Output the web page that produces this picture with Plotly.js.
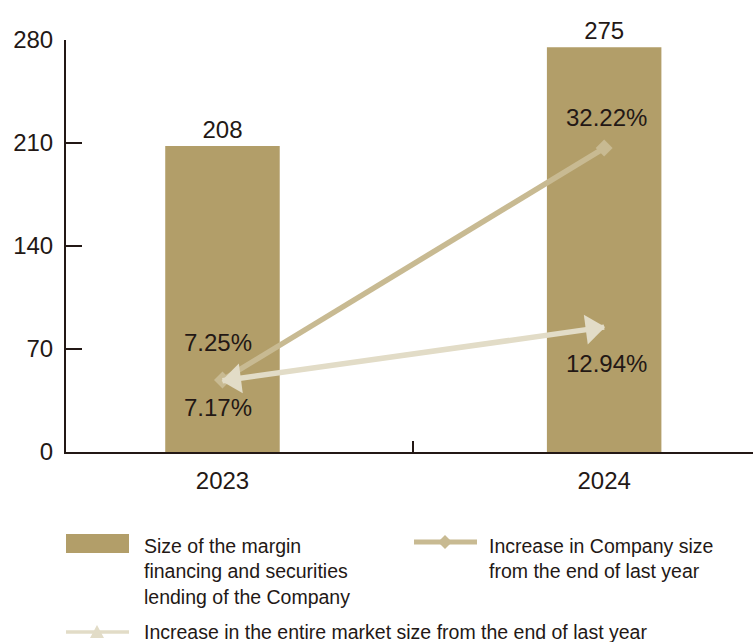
<!DOCTYPE html>
<html>
<head>
<meta charset="utf-8">
<script src="https://cdn.plot.ly/plotly-3.0.1.min.js"></script>
<style>
  html, body { margin: 0; padding: 0; background: #ffffff; }
  #chart { width: 753px; height: 642px; }
</style>
</head>
<body>
<div id="chart"></div>
<script>
// ---- Data ----
const years = ["2023", "2024"];
const marginSize = [208, 275];                 // bar values
const companyIncrease = [7.25, 32.22];         // % increase, company
const marketIncrease = [7.17, 12.94];          // % increase, entire market
const yTicks = [0, 70, 140, 210, 280];

const barName = "Size of the margin<br>financing and securities<br>lending of the Company";
const companyName = "Increase in Company size<br>from the end of last year";
const marketName = "Increase in the entire market size from the end of last year";

// ---- Style ----
const FONT = "Liberation Sans, Arial, Helvetica, sans-serif";
const TXT = "#231815";
const BAR_C = "#b29e69";
const COMP_C = "#c8ba92";
const MARK_C = "#e2dcc7";

const W = 753, H = 642;
const M = { l: 66, r: 0, t: 40, b: 190 };
const PW = W - M.l - M.r, PH = H - M.t - M.b;
const px = x => (x - M.l) / PW;
const py = y => (H - M.b - y) / PH;

const traces = [
  {
    type: "bar",
    x: years,
    y: marginSize,
    width: 0.3,
    marker: { color: BAR_C },
    text: marginSize.map(String),
    textposition: "outside",
    textfont: { family: FONT, size: 24, color: TXT },
    cliponaxis: false,
    showlegend: false,
    hoverinfo: "skip"
  },
  {
    type: "scatter",
    mode: "lines+markers",
    x: years,
    y: companyIncrease,
    yaxis: "y2",
    line: { color: COMP_C, width: 5.5 },
    marker: { symbol: "diamond", size: 13, color: COMP_C },
    cliponaxis: false,
    showlegend: false,
    hoverinfo: "skip"
  },
  {
    type: "scatter",
    mode: "lines+markers",
    x: years,
    y: marketIncrease,
    yaxis: "y2",
    line: { color: MARK_C, width: 5.5 },
    marker: { symbol: "triangle-up", size: 26, color: MARK_C,
              angle: [-97.5, 82.5], angleref: "up", standoff: 12 },
    cliponaxis: false,
    showlegend: false,
    hoverinfo: "skip"
  }
];

const annotations = [];
const fmt = v => v.toFixed(2) + "%";
years.forEach((yr, i) => {
  annotations.push({
    x: i, y: companyIncrease[i], xref: "x", yref: "y2",
    text: fmt(companyIncrease[i]), showarrow: false,
    xshift: i === 0 ? -4 : 2,
    yshift: i === 0 ? 38 : 31,
    font: { family: FONT, size: 24, color: TXT }
  });
  annotations.push({
    x: i, y: marketIncrease[i], xref: "x", yref: "y2",
    text: fmt(marketIncrease[i]), showarrow: false,
    xshift: i === 0 ? -4 : 2,
    yshift: i === 0 ? -27 : -36,
    font: { family: FONT, size: 24, color: TXT }
  });
});

// ---- Manual legend ----
const LFONT = { family: FONT, size: 19.5, color: TXT };
annotations.push({
  xref: "paper", yref: "paper", x: px(142), y: py(533),
  xanchor: "left", yanchor: "top", align: "left", showarrow: false,
  text: barName, font: LFONT
});
annotations.push({
  xref: "paper", yref: "paper", x: px(487), y: py(533),
  xanchor: "left", yanchor: "top", align: "left", showarrow: false,
  text: companyName, font: LFONT
});
annotations.push({
  xref: "paper", yref: "paper", x: px(142), y: py(632),
  xanchor: "left", yanchor: "middle", align: "left", showarrow: false,
  text: marketName, font: LFONT
});

const shapes = [
  { type: "rect", xref: "paper", yref: "paper",
    x0: px(66), x1: px(129), y0: py(553), y1: py(534),
    fillcolor: BAR_C, line: { width: 0 } },
  { type: "line", xref: "paper", yref: "paper",
    x0: px(414), x1: px(477), y0: py(542), y1: py(542),
    line: { color: COMP_C, width: 5 } },
  { type: "path", xref: "paper", yref: "paper",
    path: `M${px(445)},${py(535)} L${px(452)},${py(542)} L${px(445)},${py(549)} L${px(438)},${py(542)} Z`,
    fillcolor: COMP_C, line: { width: 0 } },
  { type: "line", xref: "paper", yref: "paper",
    x0: px(66), x1: px(129), y0: py(632), y1: py(632),
    line: { color: MARK_C, width: 3.5 } },
  { type: "path", xref: "paper", yref: "paper",
    path: `M${px(97)},${py(625)} L${px(104)},${py(638)} L${px(90)},${py(638)} Z`,
    fillcolor: MARK_C, line: { width: 0 } }
];

const layout = {
  width: W, height: H,
  margin: M,
  paper_bgcolor: "#ffffff",
  plot_bgcolor: "#ffffff",
  font: { family: FONT, color: TXT },
  showlegend: false,
  xaxis: {
    type: "category",
    range: [-0.41, 1.39],
    showgrid: false, zeroline: false,
    showline: true, linecolor: TXT, linewidth: 2,
    ticks: "inside", tickson: "boundaries", ticklen: 11, tickwidth: 2, tickcolor: TXT,
    tickfont: { family: FONT, size: 24, color: TXT },
    ticklabelstandoff: 6
  },
  yaxis: {
    range: [0, 280],
    tickvals: yTicks,
    showgrid: false, zeroline: false,
    showline: true, linecolor: TXT, linewidth: 2,
    ticks: "inside", ticklen: 16, tickwidth: 2, tickcolor: TXT,
    tickfont: { family: FONT, size: 24, color: TXT },
    ticklabelstandoff: 6
  },
  yaxis2: {
    overlaying: "y",
    range: [-0.5, 43.85],
    visible: false
  },
  annotations: annotations,
  shapes: shapes
};

Plotly.newPlot("chart", traces, layout, { displayModeBar: false, staticPlot: true });
</script>
</body>
</html>
